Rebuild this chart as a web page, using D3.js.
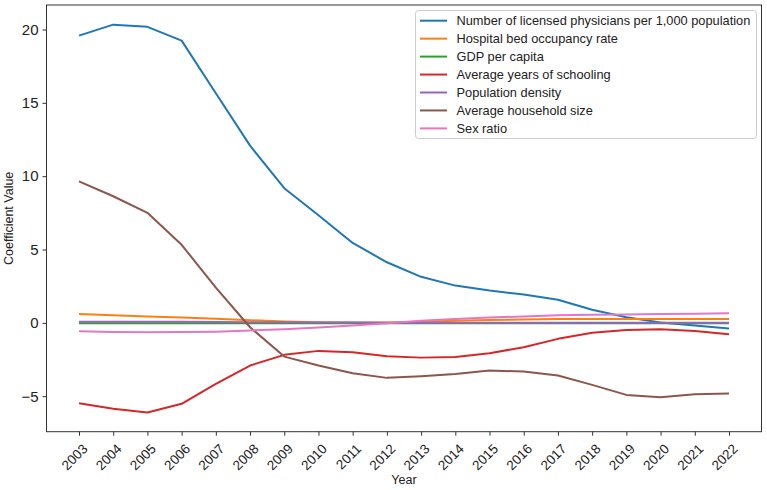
<!DOCTYPE html>
<html>
<head>
<meta charset="utf-8">
<script src="https://cdn.jsdelivr.net/npm/d3@7"></script>
<style>
  body { margin: 0; background: #fff; }
  svg { display: block; font-family: "Liberation Sans", "DejaVu Sans", sans-serif; }
  .tick text { fill: #222; }
</style>
</head>
<body>
<svg id="chart" width="767" height="490"></svg>
<script>
const years = [2003, 2004, 2005, 2006, 2007, 2008, 2009, 2010, 2011, 2012,
  2013, 2014, 2015, 2016, 2017, 2018, 2019, 2020, 2021, 2022];

const physicians = [19.58, 20.33, 20.18, 19.24, 15.65, 12.08, 9.18, 7.34, 5.45, 4.13,
  3.14, 2.54, 2.2, 1.93, 1.57, 0.89, 0.38, 0.03, -0.18, -0.39];
const bedOccupancy = [0.6, 0.52, 0.44, 0.36, 0.28, 0.18, 0.1, 0.05, 0.03, 0.02,
  0.08, 0.14, 0.19, 0.23, 0.26, 0.27, 0.27, 0.27, 0.27, 0.27];
const gdpPerCapita = [-0.03, -0.03, -0.03, -0.03, -0.03, -0.03, -0.02, -0.02, -0.02, -0.02,
  -0.02, -0.02, -0.02, -0.02, -0.02, -0.02, -0.02, -0.02, -0.02, -0.02];
const schooling = [-5.48, -5.86, -6.11, -5.52, -4.16, -2.91, -2.18, -1.91, -2.0, -2.28,
  -2.37, -2.32, -2.07, -1.66, -1.09, -0.68, -0.48, -0.43, -0.55, -0.78];
const popDensity = [0.08, 0.08, 0.07, 0.07, 0.06, 0.05, 0.04, 0.03, 0.02, 0.01,
  0.0, 0.0, 0.0, 0.0, 0.0, 0.0, 0.0, 0.0, 0.0, 0.0];
const householdSize = [9.65, 8.63, 7.5, 5.32, 2.4, -0.3, -2.3, -2.91, -3.43, -3.75,
  -3.64, -3.48, -3.25, -3.32, -3.59, -4.23, -4.91, -5.07, -4.87, -4.82];
const sexRatio = [-0.58, -0.62, -0.64, -0.63, -0.6, -0.52, -0.43, -0.32, -0.18, -0.02,
  0.14, 0.27, 0.37, 0.44, 0.52, 0.55, 0.57, 0.6, 0.62, 0.65];

const seriesNames = [
  'Number of licensed physicians per 1,000 population',
  'Hospital bed occupancy rate',
  'GDP per capita',
  'Average years of schooling',
  'Population density',
  'Average household size',
  'Sex ratio'
];
const seriesValues = [physicians, bedOccupancy, gdpPerCapita, schooling, popDensity, householdSize, sexRatio];
const colors = ['#1f77b4', '#ff7f0e', '#2ca02c', '#d62728', '#9467bd', '#8c564b', '#e377c2'];
const yTicks = [-5, 0, 5, 10, 15, 20];

const svg = d3.select('#chart');
const margin = { left: 46.5, right: 5.5, top: 5, bottom: 58.3 };
const width = 767, height = 490;

const x = d3.scaleLinear()
  .domain([2002.05, 2022.95])
  .range([margin.left, width - margin.right]);
const y = d3.scaleLinear()
  .domain([-7.42, 21.67])
  .range([height - margin.bottom, margin.top]);

const line = d3.line()
  .x((d, i) => x(years[i]))
  .y((d) => y(d));

const g = svg.append('g');
seriesValues.forEach((vals, k) => {
  g.append('path')
    .datum(vals)
    .attr('fill', 'none')
    .attr('stroke', colors[k])
    .attr('stroke-width', 2)
    .attr('stroke-linejoin', 'round')
    .attr('d', line);
});

// frame
svg.append('rect')
  .attr('x', margin.left)
  .attr('y', margin.top)
  .attr('width', width - margin.right - margin.left)
  .attr('height', height - margin.bottom - margin.top)
  .attr('fill', 'none')
  .attr('stroke', '#333')
  .attr('stroke-width', 1);

// x axis
const xAxis = svg.append('g')
  .attr('transform', `translate(0,${height - margin.bottom})`)
  .call(d3.axisBottom(x).tickValues(years).tickFormat(d3.format('d')).tickSize(4).tickPadding(3));
xAxis.select('.domain').remove();
xAxis.selectAll('line').attr('stroke', '#333');
xAxis.selectAll('text')
  .attr('font-size', 13.5)
  .attr('text-anchor', 'end')
  .attr('dy', 0)
  .attr('transform', 'translate(4,13) rotate(-45)');

// y axis
const yAxis = svg.append('g')
  .attr('transform', `translate(${margin.left},0)`)
  .call(d3.axisLeft(y).tickValues(yTicks).tickFormat(d3.format('d')).tickSize(4).tickPadding(4));
yAxis.select('.domain').remove();
yAxis.selectAll('line').attr('stroke', '#333');
yAxis.selectAll('text').attr('font-size', 15);

svg.append('text')
  .attr('x', (margin.left + width - margin.right) / 2)
  .attr('y', 484)
  .attr('text-anchor', 'middle')
  .attr('font-size', 12.5)
  .attr('fill', '#222')
  .text('Year');

svg.append('text')
  .attr('transform', `translate(13,${(margin.top + height - margin.bottom) / 2}) rotate(-90)`)
  .attr('text-anchor', 'middle')
  .attr('font-size', 12.5)
  .attr('fill', '#222')
  .text('Coefficient Value');

// legend
const legend = svg.append('g');
legend.append('rect')
  .attr('x', 415.5)
  .attr('y', 10.5)
  .attr('width', 341)
  .attr('height', 128)
  .attr('rx', 3)
  .attr('fill', '#fff')
  .attr('fill-opacity', 0.85)
  .attr('stroke', '#ccc');

seriesNames.forEach((name, k) => {
  const ly = 20.7 + k * 17.95;
  legend.append('line')
    .attr('x1', 420).attr('x2', 447)
    .attr('y1', ly).attr('y2', ly)
    .attr('stroke', colors[k])
    .attr('stroke-width', 2);
  legend.append('text')
    .attr('x', 456.5)
    .attr('y', ly)
    .attr('dy', '0.35em')
    .attr('font-size', 12.8)
    .attr('fill', '#222')
    .text(name);
});
</script>
</body>
</html>
